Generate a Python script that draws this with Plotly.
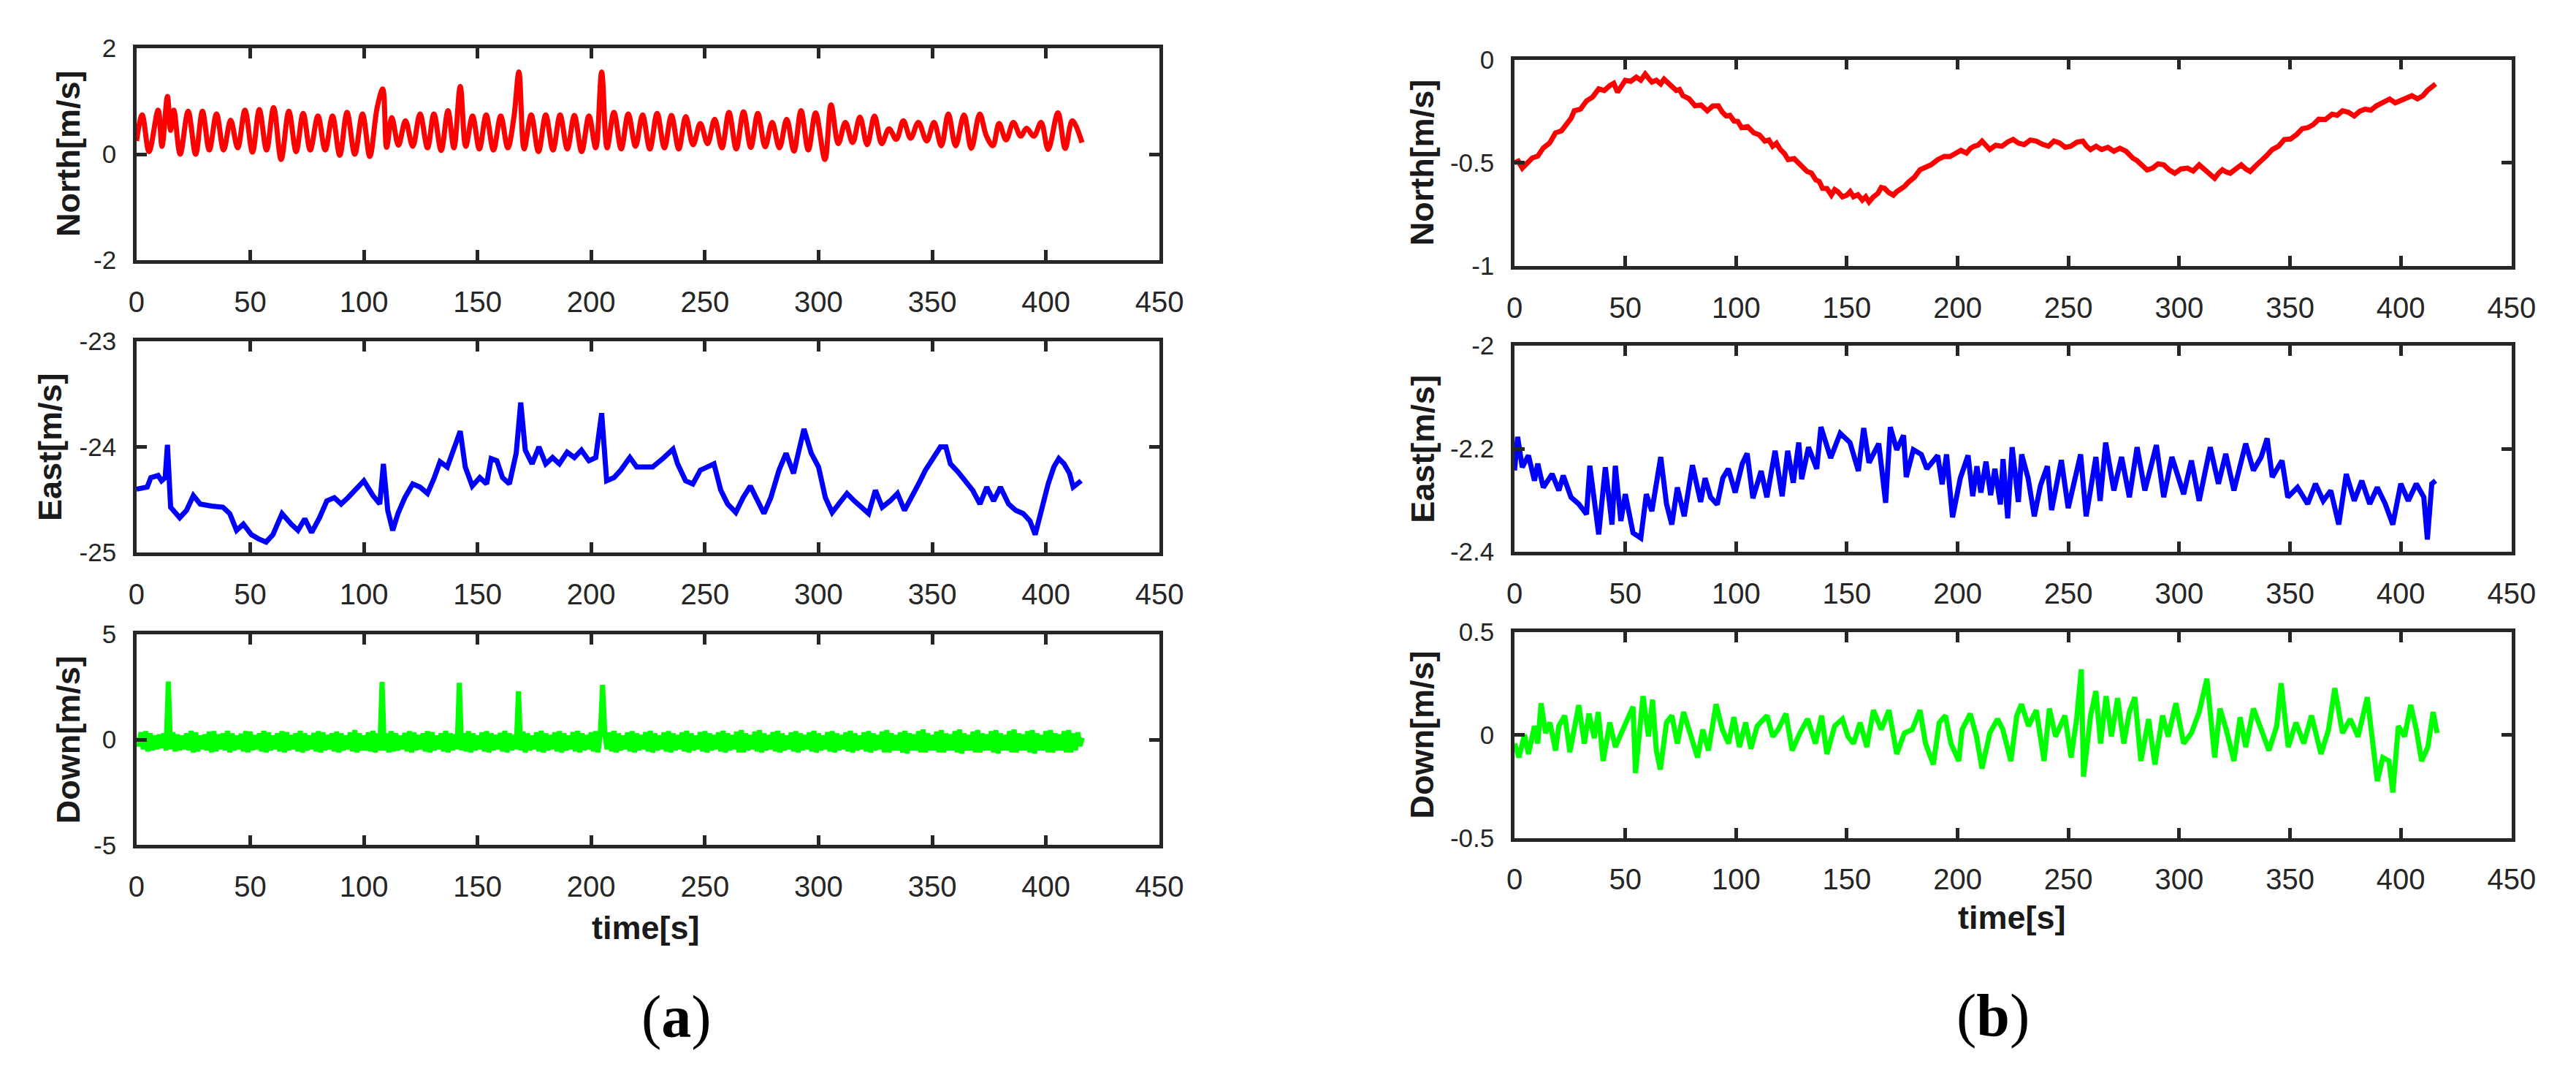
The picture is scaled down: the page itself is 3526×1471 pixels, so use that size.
import plotly.graph_objects as go

W, H = 3526, 1471

# ---------------- DATA ----------------
x_ticks = [0, 50, 100, 150, 200, 250, 300, 350, 400, 450]
x_ticktext = ["0", "50", "100", "150", "200", "250", "300", "350", "400", "450"]

# (a) North velocity [m/s]
a_north_t = [0, 2.5, 5.5, 9.5, 11.2, 13.6, 15.0, 16.4, 19.2, 22.7, 26.0, 29.0, 32.0, 35.2, 38.3,
             41.4, 44.5, 47.7, 51.0, 54.0, 57.2, 60.3, 63.6, 67.0, 70.2, 73.3, 76.4, 79.8, 83.0,
             86.2, 89.4, 92.6, 96.0, 99.4, 102.6, 105.8, 108.3, 110.0, 112.3, 115.2, 118.3, 121.5,
             124.7, 128.0, 130.8, 134.0, 137.0, 139.6, 142.4, 144.8, 147.8, 150.8, 153.8, 157.0,
             160.2, 163.3, 166.0, 168.2, 170.5, 173.6, 176.8, 180.0, 183.2, 186.3, 189.5, 192.6,
             195.8, 199.0, 202.0, 204.6, 207.0, 210.0, 213.2, 216.3, 219.5, 222.6, 225.8, 229.0,
             232.2, 235.3, 238.5, 241.6, 244.8, 248.0, 251.2, 254.3, 257.5, 260.6, 263.8, 267.0,
             270.2, 273.3, 276.5, 279.6, 282.8, 286.0, 289.2, 292.3, 295.5, 298.7, 302.8, 305.5,
             308.7, 311.8, 315.0, 318.2, 321.4, 324.6, 327.8, 331.0, 334.2, 337.3, 340.5, 343.9,
             347.6, 350.8, 354.0, 357.1, 360.3, 364.0, 367.2, 370.9, 373.8, 376.7, 379.4, 382.5,
             385.7, 388.9, 391.5, 394.7, 397.9, 401.0, 405.3, 408.5, 411.6, 415.9]
a_north_v = [0.25, 0.74, 0.05, 0.83, 0.15, 1.09, 0.45, 0.83, 0.0, 0.81, 0.0, 0.81, 0.08, 0.76, 0.08,
             0.64, 0.12, 0.83, 0.04, 0.84, 0.08, 0.88, -0.1, 0.81, 0.05, 0.77, 0.08, 0.72, 0.08,
             0.72, -0.02, 0.79, 0.0, 0.76, -0.04, 0.87, 1.23, 0.13, 0.69, 0.17, 0.63, 0.15,
             0.76, 0.12, 0.76, 0.07, 0.82, 0.12, 1.28, 0.15, 0.72, 0.1, 0.74, 0.08,
             0.72, 0.12, 0.7, 1.55, 0.1, 0.74, 0.05, 0.74, 0.08, 0.74, 0.1, 0.73,
             0.05, 0.72, 0.12, 1.55, 0.12, 0.79, 0.1, 0.76, 0.15, 0.74, 0.1, 0.77,
             0.12, 0.73, 0.1, 0.71, 0.18, 0.58, 0.2, 0.66, 0.12, 0.79, 0.1, 0.8,
             0.13, 0.77, 0.14, 0.6, 0.12, 0.66, 0.06, 0.82, 0.08, 0.78, -0.1, 0.93,
             0.2, 0.6, 0.22, 0.7, 0.18, 0.72, 0.2, 0.48, 0.28, 0.63, 0.3, 0.60,
             0.25, 0.60, 0.16, 0.76, 0.16, 0.74, 0.11, 0.76, 0.35, 0.16, 0.58, 0.27,
             0.60, 0.34, 0.49, 0.34, 0.60, 0.09, 0.78, 0.11, 0.63, 0.22]

# (a) East velocity [m/s]
a_east_t = [0, 4.7, 6.3, 9.5, 11, 12.6, 13.6, 15, 19, 22, 25, 28, 33, 38, 41, 44, 47, 50.5, 53.7, 57,
            60, 64, 68, 71, 74, 77, 80.5, 83.7, 87, 90, 93, 97, 100, 104, 107, 108.6, 110.5, 112.7,
            115, 118, 121.5, 124.7, 128, 131, 133.5, 136.7, 139.5, 142.4, 144.6, 147.7, 151, 154,
            156, 158.5, 161, 164, 167, 169, 171, 174, 177, 180, 183, 186, 189.4, 192.6, 195.7, 199,
            202, 204.6, 206.8, 210, 213, 217, 220, 224, 227, 232, 236, 238, 241.5, 244.7, 248, 251,
            254, 257, 260, 263.6, 266.8, 270, 273, 276, 279, 282.6, 285.7, 289, 293.6, 296.8, 300,
            303, 306, 309, 312.5, 315.7, 319, 322, 325, 328, 331.5, 334.7, 337.8, 341, 344, 347,
            350.4, 353.6, 356, 358, 361.5, 364.6, 367.8, 371, 374, 377, 380, 383.6, 386.7, 390,
            393, 395.3, 397.8, 401, 403.5, 405.7, 408, 410.4, 412, 413.6, 415.5]
a_east_v = [-24.40, -24.38, -24.29, -24.27, -24.32, -24.29, -23.98, -24.57, -24.67, -24.60, -24.46,
            -24.54, -24.56, -24.57, -24.63, -24.79, -24.73, -24.83, -24.87, -24.90, -24.83, -24.63,
            -24.73, -24.79, -24.68, -24.81, -24.67, -24.51, -24.48, -24.54, -24.48, -24.38, -24.32,
            -24.46, -24.54, -24.16, -24.60, -24.79, -24.63, -24.48, -24.35, -24.38, -24.44, -24.29,
            -24.14, -24.19, -24.03, -23.85, -24.19, -24.37, -24.29, -24.35, -24.11, -24.13, -24.29,
            -24.35, -24.06, -23.58, -24.03, -24.16, -24.00, -24.16, -24.10, -24.16, -24.05, -24.10,
            -24.03, -24.13, -24.10, -23.68, -24.32, -24.29, -24.22, -24.10, -24.19, -24.19, -24.19,
            -24.10, -24.02, -24.16, -24.32, -24.35, -24.22, -24.19, -24.16, -24.41, -24.54, -24.62,
            -24.48, -24.37, -24.51, -24.63, -24.48, -24.22, -24.06, -24.25, -23.83, -24.06, -24.19,
            -24.48, -24.62, -24.54, -24.44, -24.51, -24.57, -24.63, -24.41, -24.57, -24.51, -24.44,
            -24.60, -24.48, -24.35, -24.22, -24.10, -24.00, -24.00, -24.16, -24.24, -24.32, -24.41,
            -24.54, -24.38, -24.51, -24.38, -24.54, -24.60, -24.63, -24.70, -24.83, -24.60, -24.35,
            -24.19, -24.11, -24.16, -24.25, -24.38, -24.35, -24.32]

# (a) Down velocity [m/s], sampled every 1 s (dense oscillation band + spikes)
a_down_dt = 1.0
a_down_v = [0.1, -0.3, 0.35, -0.45, 0.4, -0.55, 0.3, -0.5, 0.2, -0.45, 0.25, -0.4, 0.3, -0.5, 2.76, -0.45, 0.35, -0.55, 0.25, -0.5,
            0.2, -0.45, 0.3, -0.5, 0.42, -0.6, 0.35, -0.55, 0.2, -0.45, 0.25, -0.5, 0.38, -0.6, 0.4, -0.55, 0.25, -0.45, 0.3, -0.5,
            0.42, -0.6, 0.3, -0.5, 0.2, -0.45, 0.28, -0.55, 0.4, -0.6, 0.38, -0.5, 0.22, -0.45, 0.3, -0.55, 0.42, -0.6, 0.35, -0.5,
            0.2, -0.45, 0.3, -0.55, 0.4, -0.6, 0.36, -0.5, 0.22, -0.45, 0.3, -0.55, 0.42, -0.6, 0.3, -0.5, 0.2, -0.45, 0.32, -0.55,
            0.4, -0.6, 0.35, -0.5, 0.22, -0.45, 0.3, -0.55, 0.38, -0.6, 0.3, -0.5, 0.2, -0.45, 0.35, -0.55, 0.45, -0.6, 0.3, -0.5,
            0.2, -0.5, 0.35, -0.55, 0.42, -0.6, 0.3, -0.5, 2.74, -0.5, 0.3, -0.6, 0.4, -0.55, 0.3, -0.5, 0.2, -0.45, 0.32, -0.55,
            0.4, -0.6, 0.35, -0.5, 0.22, -0.45, 0.3, -0.55, 0.4, -0.6, 0.36, -0.5, 0.2, -0.45, 0.3, -0.55, 0.42, -0.6, 0.3, -0.5,
            0.25, -0.45, 2.7, -0.5, 0.3, -0.55, 0.4, -0.6, 0.3, -0.5, 0.2, -0.45, 0.35, -0.55, 0.4, -0.6, 0.3, -0.5, 0.22, -0.45,
            0.32, -0.55, 0.42, -0.6, 0.3, -0.5, 0.22, -0.45, 2.3, -0.5, 0.38, -0.6, 0.3, -0.5, 0.2, -0.45, 0.35, -0.55, 0.42, -0.6,
            0.3, -0.5, 0.22, -0.45, 0.35, -0.55, 0.4, -0.6, 0.3, -0.5, 0.2, -0.45, 0.36, -0.55, 0.42, -0.6, 0.3, -0.5, 0.22, -0.45,
            0.35, -0.55, 0.4, -0.6, 0.3, 2.6, 0.22, -0.45, 0.35, -0.55, 0.42, -0.6, 0.3, -0.5, 0.2, -0.45, 0.35, -0.55, 0.4, -0.6,
            0.3, -0.5, 0.22, -0.45, 0.36, -0.55, 0.42, -0.6, 0.3, -0.5, 0.2, -0.45, 0.35, -0.55, 0.4, -0.6, 0.3, -0.5, 0.22, -0.45,
            0.35, -0.55, 0.42, -0.6, 0.3, -0.5, 0.2, -0.45, 0.36, -0.55, 0.4, -0.6, 0.3, -0.5, 0.22, -0.45, 0.35, -0.55, 0.42, -0.6,
            0.3, -0.5, 0.22, -0.45, 0.38, -0.6, 0.45, -0.6, 0.3, -0.5, 0.22, -0.45, 0.38, -0.55, 0.45, -0.6, 0.3, -0.5, 0.22, -0.45,
            0.36, -0.55, 0.42, -0.6, 0.3, -0.5, 0.2, -0.45, 0.35, -0.55, 0.4, -0.6, 0.3, -0.5, 0.22, -0.45, 0.35, -0.55, 0.42, -0.6,
            0.3, -0.5, 0.2, -0.45, 0.36, -0.55, 0.4, -0.6, 0.3, -0.5, 0.22, -0.45, 0.35, -0.55, 0.42, -0.6, 0.3, -0.5, 0.2, -0.45,
            0.35, -0.55, 0.4, -0.6, 0.3, -0.5, 0.22, -0.45, 0.38, -0.6, 0.45, -0.6, 0.3, -0.5, 0.22, -0.5, 0.35, -0.6, 0.42, -0.65,
            0.3, -0.5, 0.25, -0.5, 0.4, -0.6, 0.48, -0.6, 0.3, -0.5, 0.22, -0.5, 0.38, -0.6, 0.45, -0.6, 0.3, -0.5, 0.25, -0.5,
            0.4, -0.6, 0.48, -0.65, 0.3, -0.5, 0.22, -0.5, 0.38, -0.6, 0.45, -0.6, 0.3, -0.5, 0.25, -0.5, 0.4, -0.6, 0.45, -0.65,
            0.3, -0.5, 0.22, -0.5, 0.4, -0.6, 0.48, -0.6, 0.3, -0.5, 0.25, -0.5, 0.4, -0.6, 0.45, -0.65, 0.3, -0.5, 0.22, -0.5,
            0.4, -0.6, 0.45, -0.6, 0.3, -0.5, 0.25, -0.5, 0.4, -0.6, 0.45, -0.6, 0.3, -0.5, 0.35, -0.3, 0.1]

# (b) North velocity [m/s]
b_north_t = [0, 1.7, 3.5, 5.8, 8, 10.5, 13, 15.8, 18.5, 21.2,
             24, 25.5, 27, 29.8, 32.5, 35.2, 38, 40.5, 43, 44.8,
             46.5, 48.2, 50, 52.5, 55, 57, 59, 60.5, 62, 64,
             66, 67.5, 69, 71, 73, 74.5, 76, 78.8, 81.5, 84.2,
             87, 89.5, 92, 93.8, 95.5, 97.2, 99, 100.8, 102.5, 105.2,
             108, 110.5, 113, 114.8, 116.5, 118.2, 120, 121.8, 123.5, 126.2,
             129, 130.5, 132, 134, 136, 137.5, 139, 141, 143, 144.5,
             146, 148, 150, 151.5, 153, 155, 157, 158.5, 160, 162,
             164, 165.5, 167, 169, 171, 172.5, 174, 176, 178, 180.5,
             183, 185.5, 188, 191, 194, 196.5, 199, 201.5, 204, 205.8,
             207.5, 209.2, 211, 212.8, 214.5, 217.2, 220, 222.5, 225, 227.5,
             230, 232.8, 235.5, 238.2, 241, 243.5, 246, 248.5, 251, 253.8,
             256.5, 258.2, 260, 262.5, 265, 267.8, 270.5, 273.2, 276, 277.5,
             279, 281, 283, 285.5, 288, 290.5, 293, 295.5, 298, 300.8,
             303.7, 306.3, 309, 310.8, 312.5, 314.2, 316, 317.8, 319.5, 321.2,
             323, 325.5, 328, 330, 332, 334.5, 337, 339.5, 342, 344.8,
             347.5, 350.2, 353, 355.5, 358, 360.5, 363, 366, 369, 371.3,
             373.7, 376.3, 379, 381.5, 384, 386.5, 389, 392, 395, 397.5,
             400, 402.5, 405, 407.5, 410, 412, 414, 415.7]
b_north_v = [-0.500, -0.492, -0.526, -0.505, -0.477, -0.468, -0.428, -0.405, -0.355, -0.345,
             -0.306, -0.285, -0.248, -0.240, -0.200, -0.182, -0.142, -0.150, -0.126, -0.115,
             -0.158, -0.125, -0.100, -0.105, -0.085, -0.100, -0.070, -0.090, -0.109, -0.100,
             -0.118, -0.095, -0.109, -0.135, -0.150, -0.145, -0.175, -0.190, -0.224, -0.220,
             -0.248, -0.225, -0.224, -0.255, -0.273, -0.270, -0.297, -0.300, -0.330, -0.325,
             -0.355, -0.365, -0.395, -0.390, -0.420, -0.405, -0.436, -0.455, -0.485, -0.480,
             -0.510, -0.520, -0.542, -0.550, -0.583, -0.590, -0.624, -0.625, -0.657, -0.630,
             -0.641, -0.665, -0.657, -0.640, -0.665, -0.655, -0.681, -0.665, -0.690, -0.665,
             -0.649, -0.620, -0.624, -0.645, -0.657, -0.640, -0.632, -0.615, -0.592, -0.570,
             -0.534, -0.525, -0.510, -0.485, -0.469, -0.470, -0.453, -0.440, -0.453, -0.430,
             -0.420, -0.415, -0.395, -0.420, -0.436, -0.415, -0.420, -0.400, -0.387, -0.405,
             -0.412, -0.390, -0.395, -0.410, -0.420, -0.395, -0.404, -0.425, -0.420, -0.400,
             -0.395, -0.420, -0.436, -0.420, -0.436, -0.425, -0.444, -0.430, -0.444, -0.460,
             -0.477, -0.490, -0.510, -0.535, -0.526, -0.505, -0.510, -0.535, -0.551, -0.530,
             -0.526, -0.540, -0.510, -0.525, -0.542, -0.560, -0.575, -0.550, -0.534, -0.545,
             -0.551, -0.530, -0.510, -0.530, -0.542, -0.515, -0.493, -0.465, -0.436, -0.420,
             -0.387, -0.385, -0.363, -0.335, -0.330, -0.315, -0.289, -0.290, -0.265, -0.270,
             -0.248, -0.255, -0.273, -0.250, -0.240, -0.245, -0.224, -0.210, -0.191, -0.210,
             -0.199, -0.185, -0.175, -0.190, -0.175, -0.150, -0.134, -0.118]

# (b) East velocity [m/s]
b_east_t = [0, 1.4, 3.5, 6.3, 9, 10.5, 13, 17, 20, 22, 25.5, 29, 32.5, 34, 38, 41, 44, 45.5, 48, 50,
            53.5, 57, 59.5, 62, 66, 68.6, 71, 73.5, 76.6, 80.3, 84, 86, 88.5, 91.5, 94, 96.5, 99.6,
            102.8, 105, 107.6, 111.3, 113.9, 117.6, 120.8, 123.3, 125.8, 128.3, 129.6, 132.7, 136.4,
            138.3, 142.7, 147, 151.4, 155.2, 157.6, 160, 164.4, 167.5, 169.6, 172.5, 175.6, 176.8,
            180, 183.6, 186.1, 191, 193, 195, 197.7, 201.2, 204.7, 206.8, 208.7, 210.5, 212.8, 214.9,
            216.8, 219.3, 220.5, 222.6, 224.6, 227.4, 228.9, 231.8, 234.6, 237.4, 240.5, 242.4,
            246.8, 249.9, 255.5, 258, 262.4, 264.3, 266.8, 270.5, 274, 277.5, 281, 284.5, 289.7,
            293, 296.7, 302, 305.5, 309, 314, 317.7, 321, 324.7, 330, 333.5, 337, 339.7, 342, 346.4,
            349, 353.4, 358, 361.5, 365, 368.4, 372, 375.4, 379, 382.4, 386, 389.4, 393, 396.4,
            400, 403.4, 407, 410.4, 412, 414, 415.7]
b_east_v = [-2.242, -2.177, -2.236, -2.213, -2.262, -2.229, -2.275, -2.249, -2.281, -2.252, -2.294,
            -2.307, -2.327, -2.233, -2.366, -2.236, -2.347, -2.233, -2.340, -2.288, -2.363, -2.373,
            -2.288, -2.321, -2.216, -2.307, -2.347, -2.275, -2.331, -2.232, -2.303, -2.257, -2.294,
            -2.308, -2.257, -2.239, -2.285, -2.229, -2.209, -2.296, -2.243, -2.294, -2.204, -2.292,
            -2.204, -2.266, -2.188, -2.259, -2.197, -2.239, -2.158, -2.218, -2.170, -2.188, -2.243,
            -2.160, -2.227, -2.190, -2.305, -2.158, -2.202, -2.174, -2.255, -2.202, -2.211, -2.239,
            -2.213, -2.269, -2.211, -2.333, -2.257, -2.213, -2.292, -2.234, -2.285, -2.225, -2.290,
            -2.239, -2.308, -2.220, -2.335, -2.197, -2.303, -2.211, -2.257, -2.331, -2.271, -2.234,
            -2.319, -2.222, -2.315, -2.211, -2.331, -2.216, -2.301, -2.188, -2.281, -2.216, -2.294,
            -2.197, -2.281, -2.193, -2.294, -2.216, -2.288, -2.223, -2.301, -2.197, -2.268, -2.210,
            -2.281, -2.190, -2.242, -2.216, -2.180, -2.255, -2.223, -2.294, -2.275, -2.307, -2.268,
            -2.301, -2.281, -2.347, -2.249, -2.301, -2.262, -2.307, -2.275, -2.307, -2.347, -2.268,
            -2.301, -2.268, -2.294, -2.376, -2.268, -2.262]

# (b) Down velocity [m/s]
b_down_t = [0, 2, 4.5, 6.3, 9, 10.5, 12, 14, 16, 18.5, 20, 22.7, 25, 27, 29, 31.5, 33.6, 36, 37.8,
            40, 43, 45.5, 48, 51, 53.5, 54.6, 58, 60.5, 62.3, 64, 65.8, 68.6, 71, 73.5, 76.3, 79.8,
            82.6, 85, 87.5, 91, 93.8, 96.6, 99, 101.5, 104.3, 106.7, 109.5, 114, 116.5, 119, 122.5,
            125.3, 128.8, 132.3, 135.8, 138.6, 141, 144.5, 148, 150.5, 153, 156, 159, 162, 165.5,
            169, 172.5, 176, 179.5, 183, 185.5, 189, 191.7, 194.5, 197, 200.5, 202, 205.7, 208.5,
            211, 214.5, 218, 220.4, 224, 226.7, 228.8, 232, 235.5, 239, 241.4, 244.2, 248.4, 251.2,
            253.7, 255.8, 256.8, 260, 262.4, 264.5, 267, 269.4, 272.2, 275, 277.5, 280, 282.7,
            286.2, 289, 292.5, 295, 298.5, 302, 305.5, 309, 312.5, 316, 318.4, 321.2, 324.7, 327.5,
            330, 333.5, 337, 340.5, 344, 346, 349.2, 352.7, 356.2, 359.7, 364, 367.4, 370.2, 373.7,
            377.2, 380.7, 384.9, 387, 389.4, 391.9, 394.7, 396.4, 398.9, 401.7, 404.5, 407, 409.4,
            412.2, 414.6, 416.4]
b_down_v = [-0.041, -0.109, 0.002, -0.092, 0.044, -0.041, 0.155, 0.01, 0.061, -0.075, 0.044, 0.095,
            -0.083, 0.027, 0.146, -0.041, 0.104, -0.015, 0.112, -0.126, 0.061, -0.058, 0.01, 0.078,
            0.138, -0.185, 0.189, -0.007, 0.172, -0.075, -0.168, 0.061, 0.095, -0.041, 0.112,
            -0.007, -0.109, 0.027, -0.075, 0.15, 0.027, -0.041, 0.087, -0.058, 0.061, -0.066,
            0.044, 0.095, -0.007, 0.027, 0.104, -0.075, 0.01, 0.078, -0.041, 0.095, -0.092, 0.044,
            0.078, -0.007, -0.041, 0.061, -0.058, 0.121, 0.027, 0.121, -0.092, 0.01, 0.027, 0.121,
            -0.041, -0.143, 0.061, 0.095, -0.041, -0.126, 0.027, 0.104, -0.007, -0.163, 0.01,
            0.078, 0.027, -0.126, 0.095, 0.15, 0.044, 0.121, -0.126, 0.129, -0.007, 0.095, -0.109,
            0.078, 0.32, -0.202, 0.095, 0.214, -0.041, 0.189, -0.007, 0.18, -0.041, 0.112, 0.184,
            -0.126, 0.078, -0.143, 0.095, -0.007, 0.155, -0.041, 0.01, 0.112, 0.274, -0.109,
            0.129, 0.027, -0.126, 0.087, -0.058, 0.129, 0.019, -0.075, 0.044, 0.252, -0.058,
            0.061, -0.041, 0.095, -0.092, 0.027, 0.228, 0.01, 0.078, -0.007, 0.184, -0.007,
            -0.224, -0.109, -0.126, -0.279, 0.044, -0.007, 0.146, 0.027, -0.126, -0.058, 0.112,
            0.01]

# panel definitions: y-axis title, range, ticks
y_titles = ["North[m/s]", "East[m/s]", "Down[m/s]", "North[m/s]", "East[m/s]", "Down[m/s]"]
y_ranges = [[-2, 2], [-25, -23], [-5, 5], [-1, 0], [-2.4, -2.0], [-0.5, 0.5]]
y_tickvals = [[-2, 0, 2], [-25, -24, -23], [-5, 0, 5], [-1, -0.5, 0], [-2.4, -2.2, -2.0], [-0.5, 0, 0.5]]
y_ticktext = [["-2", "0", "2"], ["-25", "-24", "-23"], ["-5", "0", "5"],
              ["-1", "-0.5", "0"], ["-2.4", "-2.2", "-2"], ["-0.5", "0", "0.5"]]
line_colors = ["#FF0000", "#0000FF", "#00FF00", "#FF0000", "#0000FF", "#00FF00"]

# ---------------- LAYOUT (pixel geometry) ----------------
col_px = [(170, 1588), (2080, 3462)]
row_px = [[(39, 337), (451, 748), (863, 1159)],
          [(55, 345), (457, 747), (860, 1149)]]
ytitle_x_px = [[75, 50, 75], [1952, 1952, 1952]]

a_down_t = [a_down_dt * i for i in range(len(a_down_v))]
series = [(a_north_t, a_north_v, "spline"), (a_east_t, a_east_v, "linear"), (a_down_t, a_down_v, "linear"),
          (b_north_t, b_north_v, "linear"), (b_east_t, b_east_v, "linear"), (b_down_t, b_down_v, "linear")]

AX = "#262626"
fig = go.Figure()
layout = dict(width=W, height=H, margin=dict(l=0, r=0, t=0, b=0),
              paper_bgcolor="white", plot_bgcolor="white", showlegend=False,
              font=dict(family="Liberation Sans, Arial, sans-serif", color=AX))
annotations = []

for i in range(6):
    col = i // 3
    row = i % 3
    n = i + 1
    xs = "" if n == 1 else str(n)
    t, v, shape = series[i]
    m = min(len(t), len(v))
    fig.add_trace(go.Scatter(x=t[:m], y=v[:m], mode="lines", xaxis="x" + xs, yaxis="y" + xs,
                             line=dict(color=line_colors[i], width=7, shape=shape, smoothing=1.0),
                             hoverinfo="skip"))
    x0, x1 = col_px[col]
    y0, y1 = row_px[col][row]
    common = dict(showline=True, linewidth=4.5, linecolor=AX, mirror="ticks",
                  ticks="inside", ticklen=14, tickwidth=4.5, tickcolor=AX,
                  showgrid=False, zeroline=False, fixedrange=True)
    layout["xaxis" + xs] = dict(domain=[x0 / W, x1 / W], anchor="y" + xs, range=[0, 450],
                                tickmode="array", tickvals=x_ticks, ticktext=x_ticktext,
                                tickfont=dict(size=40, color=AX), ticklabelstandoff=18, **common)
    layout["yaxis" + xs] = dict(domain=[1 - y1 / H, 1 - y0 / H], anchor="x" + xs, range=y_ranges[i],
                                tickmode="array", tickvals=y_tickvals[i], ticktext=y_ticktext[i],
                                tickfont=dict(size=35, color=AX), ticklabelstandoff=16, **common)
    annotations.append(dict(x=ytitle_x_px[col][row] / W, y=1 - ((y0 + y1) / 2) / H,
                            xref="paper", yref="paper", text="<b>%s</b>" % y_titles[i],
                            textangle=-90, showarrow=False, xanchor="center", yanchor="middle",
                            font=dict(size=45, color="#1a1a1a", family="Liberation Sans, Arial, sans-serif")))

# x-axis titles and panel letters
for (cx, cy) in [(876, 1275), (2770, 1261)]:
    annotations.append(dict(x=cx / W, y=1 - cy / H, xref="paper", yref="paper", text="<b>time[s]</b>",
                            showarrow=False, xanchor="center", yanchor="middle",
                            font=dict(size=45, color="#1a1a1a", family="Liberation Sans, Arial, sans-serif")))
for (lbl, cx, cy) in [("a", 918, 1401), ("b", 2743, 1399)]:
    annotations.append(dict(x=cx / W, y=1 - cy / H, xref="paper", yref="paper",
                            text="(<b>%s</b>)" % lbl, showarrow=False, xanchor="center", yanchor="middle",
                            font=dict(size=82, color="black", family="Liberation Serif, Times New Roman, serif")))

layout["annotations"] = annotations
fig.update_layout(**layout)
fig.write_html("out.html")
